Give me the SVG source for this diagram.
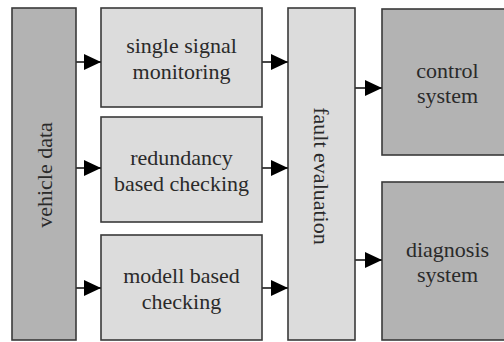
<svg xmlns="http://www.w3.org/2000/svg" width="504" height="342" viewBox="0 0 504 342">
<defs>
<style>
.dark{fill:#b3b3b3;stroke:#3a3a3a;stroke-width:1.6}
.light{fill:#dcdcdc;stroke:#3a3a3a;stroke-width:1.6}
.t{font-family:'Liberation Serif','DejaVu Serif',serif;font-size:22px;fill:#2a2a2a;text-anchor:middle}
.conn{stroke:#333;stroke-width:1.8;fill:none}
</style>
<marker id="ah" markerUnits="userSpaceOnUse" markerWidth="17" markerHeight="16" refX="17" refY="8" orient="auto">
<polygon points="0,0 17,8 0,16" fill="#000"/>
</marker>
</defs>
<rect width="504" height="342" fill="#fff"/>
<g id="vehicle-data">
<rect class="dark" x="12" y="8" width="64" height="332"/>
<text class="t" font-family="Liberation Serif, serif" transform="translate(52,175) rotate(-90)">vehicle data</text>
</g>
<g id="single-signal">
<rect class="light" x="101" y="8" width="161" height="99"/>
<text class="t" font-family="Liberation Serif, serif" x="181.5" y="53">single signal</text>
<text class="t" font-family="Liberation Serif, serif" x="181.5" y="79">monitoring</text>
</g>
<g id="redundancy">
<rect class="light" x="101" y="117" width="161" height="105"/>
<text class="t" font-family="Liberation Serif, serif" x="181.5" y="165">redundancy</text>
<text class="t" font-family="Liberation Serif, serif" x="181.5" y="190.5">based checking</text>
</g>
<g id="modell">
<rect class="light" x="101" y="235" width="161" height="105"/>
<text class="t" font-family="Liberation Serif, serif" x="181.5" y="283">modell based</text>
<text class="t" font-family="Liberation Serif, serif" x="181.5" y="308.5">checking</text>
</g>
<g id="fault-evaluation">
<rect class="light" x="288" y="8" width="67" height="332"/>
<text class="t" font-family="Liberation Serif, serif" transform="translate(314,176) rotate(90)">fault evaluation</text>
</g>
<g id="control-system">
<rect class="dark" x="382" y="9" width="130" height="146"/>
<text class="t" font-family="Liberation Serif, serif" x="447.5" y="77.5">control</text>
<text class="t" font-family="Liberation Serif, serif" x="447.5" y="103">system</text>
</g>
<g id="diagnosis-system">
<rect class="dark" x="382" y="182" width="130" height="158"/>
<text class="t" font-family="Liberation Serif, serif" x="447.5" y="256.5">diagnosis</text>
<text class="t" font-family="Liberation Serif, serif" x="447.5" y="282">system</text>
</g>
<g id="connectors">
<line class="conn" x1="76" y1="62" x2="101" y2="62" marker-end="url(#ah)"/>
<line class="conn" x1="76" y1="168" x2="101" y2="168" marker-end="url(#ah)"/>
<line class="conn" x1="76" y1="288" x2="101" y2="288" marker-end="url(#ah)"/>
<line class="conn" x1="262" y1="62" x2="288" y2="62" marker-end="url(#ah)"/>
<line class="conn" x1="262" y1="168" x2="288" y2="168" marker-end="url(#ah)"/>
<line class="conn" x1="262" y1="288" x2="288" y2="288" marker-end="url(#ah)"/>
<line class="conn" x1="355" y1="88" x2="382" y2="88" marker-end="url(#ah)"/>
<line class="conn" x1="355" y1="260" x2="382" y2="260" marker-end="url(#ah)"/>
</g>
</svg>
